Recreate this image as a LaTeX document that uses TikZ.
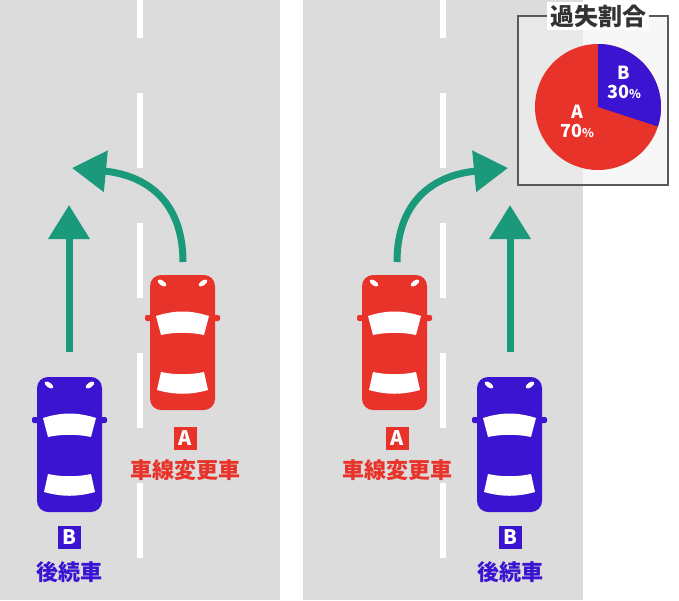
\documentclass[tikz,border=0pt]{standalone}
\usepackage{fontspec}
\newfontfamily\cjk{Noto Sans CJK JP}
\usetikzlibrary{arrows.meta}
\definecolor{carred}{HTML}{E8332A}
\definecolor{carblue}{HTML}{3A14D0}
\definecolor{arrowgreen}{HTML}{1A9A7A}
\definecolor{road}{HTML}{DCDCDC}
\tikzset{
  dash line/.style={white, line width=6pt},
  move arrow/.style={arrowgreen, line width=7pt, -{Triangle[width=40pt,length=34pt]}},
  letter box/.style={minimum size=23pt, inner sep=0pt, text=white, font=\cjk\bfseries\fontsize{20}{20}\selectfont},
  car label/.style={font=\cjk\bfseries\fontsize{22}{22}\selectfont},
  pie label/.style={text=white, align=center, font=\cjk\bfseries\fontsize{18}{19}\selectfont},
  pics/car/.style={code={
    \fill[#1, rounded corners=11pt] (0,0) rectangle (65,135);
    \fill[#1, rounded corners=2pt] (-5,40) rectangle (70,46);
    \fill[white] (6,41) .. controls (25,35) and (40,35) .. (59,41) -- (54,60) .. controls (40,57) and (25,57) .. (11,60) -- cycle;
    \fill[white] (11,97) .. controls (25,100) and (40,100) .. (54,97) -- (58,115) .. controls (40,120) and (25,120) .. (7,115) -- cycle;
    \fill[white, rotate around={-35:(12,8)}] (12,8) ellipse (5pt and 2.5pt);
    \fill[white, rotate around={35:(53,8)}] (53,8) ellipse (5pt and 2.5pt);
  }}
}
\begin{document}
\begin{tikzpicture}[x=1pt, y=-1pt]
  \useasboundingbox (0,0) rectangle (679,600);
  % roads
  \fill[road] (0,0) rectangle (280,600);
  \fill[road] (303,0) rectangle (583,600);
  \foreach \lx in {140,443}{
    \draw[dash line] (\lx,0) -- (\lx,38);
    \foreach \ly in {93,223,353,483}
      \draw[dash line] (\lx,\ly) -- (\lx,\ly+75);
  }

  % cars
  \pic at (150,275) {car=carred};
  \pic at (37,377) {car=carblue};
  \pic at (362,275) {car=carred};
  \pic at (477,377) {car=carblue};

  % arrows
  \coordinate (lstraight from) at (69,352);   \coordinate (lstraight to) at (69,205);
  \coordinate (lcurve from) at (183,262);     \coordinate (lcurve to) at (72,168);
  \coordinate (rcurve from) at (397,262);     \coordinate (rcurve to) at (508,168);
  \coordinate (rstraight from) at (510,352);  \coordinate (rstraight to) at (510,205);
  \draw[move arrow] (lstraight from) -- (lstraight to);
  \draw[move arrow] (lcurve from) .. controls (183,200) and (145,175) .. (lcurve to);
  \draw[move arrow] (rcurve from) .. controls (397,200) and (435,175) .. (rcurve to);
  \draw[move arrow] (rstraight from) -- (rstraight to);

  % labels
  \node[letter box, fill=carred] (la) at (185,438) {A};
  \node[car label, text=carred] (lalabel) at (185,470) {車線変更車};
  \node[letter box, fill=carblue] (lb) at (69,537) {B};
  \node[car label, text=carblue] (lblabel) at (69,572) {後続車};
  \node[letter box, fill=carred] (ra) at (397,438) {A};
  \node[car label, text=carred] (ralabel) at (397,470) {車線変更車};
  \node[letter box, fill=carblue] (rb) at (510,537) {B};
  \node[car label, text=carblue] (rblabel) at (510,572) {後続車};

  % fault ratio
  \fill[white] (583,15) rectangle (668,185);
  \filldraw[fill=black!5, fill opacity=0.6, draw=black!65, line width=2pt] (518,16) rectangle (668,185);
  \node[fill=white, inner sep=3pt, text=black!80, font=\cjk\bfseries\fontsize{24}{24}\selectfont] (ratio title) at (598,16) {過失割合};
  \coordinate (pie) at (598,107);
  \fill[carred] (pie) circle[radius=63];
  \fill[carblue] (pie) -- ++(0,-63) arc[start angle=-90, end angle=18, radius=63] -- cycle;
  \node[pie label] (pie b) at (624,82) {B\\30{\fontsize{12}{12}\selectfont\%}};
  \node[pie label] (pie a) at (577,121) {A\\70{\fontsize{12}{12}\selectfont\%}};
\end{tikzpicture}
\end{document}
